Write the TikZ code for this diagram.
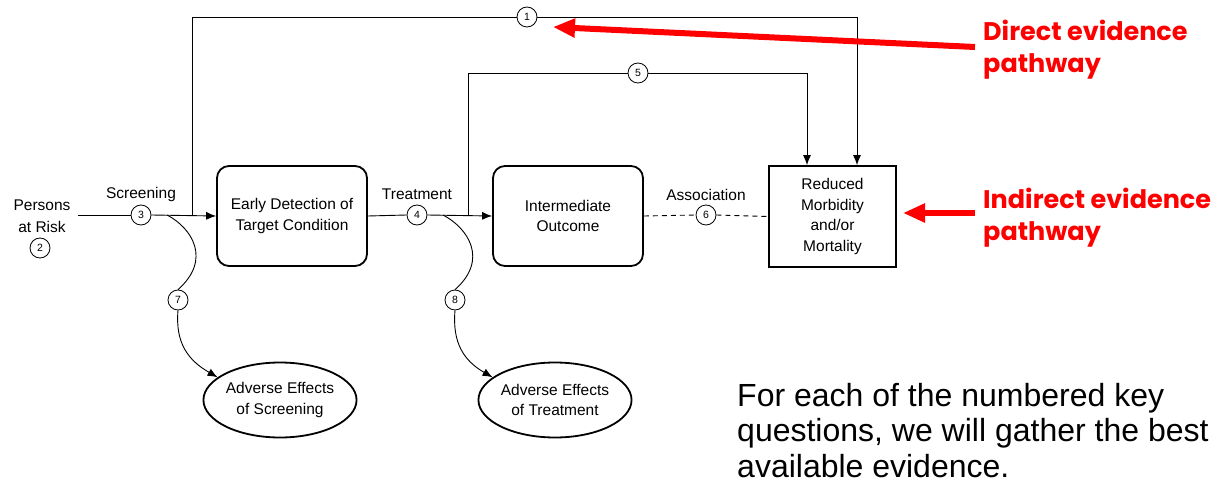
\documentclass[tikz,border=0pt]{standalone}
\usepackage{fontspec}
\setmainfont{Liberation Sans}
\newfontfamily\redfont{Poppins}
\usetikzlibrary{arrows.meta,shapes.geometric}
\definecolor{pred}{RGB}{255,0,0}
\tikzset{
  lbl/.style={font=\fontsize{15.5}{20.7}\selectfont, align=center, inner sep=0pt},
  num/.style={circle, draw, line width=0.8pt, minimum size=20pt, inner sep=0pt, font=\fontsize{10.5}{10.5}\selectfont, fill=white},
  rbox/.style={draw, line width=1.8pt, rounded corners=12pt, minimum width=150pt, minimum height=100pt, lbl},
  sbox/.style={draw, line width=1.8pt, minimum width=127pt, minimum height=101pt, lbl},
  ell/.style={ellipse, draw, line width=1.8pt, minimum width=150pt, minimum height=75pt, lbl},
  thin/.style={line width=0.9pt},
  arr/.style={thin, -{Latex[length=10pt,width=8pt]}},
  redarr/.style={pred, line width=6pt, -{Triangle[length=22pt,width=18pt]}},
  redtxt/.style={text=pred, font=\redfont\bfseries\fontsize{25.5}{32}\selectfont, align=left, inner sep=0pt, anchor=base west},
}
\begin{document}
\begin{tikzpicture}[x=1pt,y=-1pt]
\useasboundingbox (0,0) rectangle (1221,492);
% nodes
\node[lbl, font=\fontsize{15.5}{22}\selectfont] (persons) at (42,216) {Persons\\at Risk};
\node[num] (c2) at (40,248) {2};
\node[rbox] (box1) at (292,216) {Early Detection of\\Target Condition};
\node[rbox] (box2) at (568,216) {Intermediate\\Outcome};
\node[sbox] (box3) at (832.5,216.5) {Reduced\\Morbidity\\and/or\\Mortality};
\node[ell] (e1) at (280,400) {Adverse Effects\\of Screening};
\node[ell] (e2) at (555,400) {Adverse Effects\\of Treatment};
\node[num] (c3) at (141,215) {3};
\node[num] (c4) at (417,215) {4};
\node[num] (c6) at (706,215) {6};
\node[num] (c1) at (527,17) {1};
\node[num] (c5) at (638,73) {5};
\node[num] (c7) at (178,300) {7};
\node[num] (c8) at (455,300) {8};
\node[lbl] (lscr) at (141,194) {Screening};
\node[lbl] (ltrt) at (417,194) {Treatment};
\node[lbl] (lasc) at (706,195) {Association};
\coordinate (start) at (78,215);
\coordinate (j1) at (192,215);
\coordinate (j5) at (468,215);
\coordinate (j7) at (167,215);
\coordinate (j8) at (443,215);
% main line
\draw[thin] (start) -- (c3.west);
\draw[arr] (c3.east) -- (box1.west);
\draw[thin] (box1.east) -- (c4.west);
\draw[arr] (c4.east) -- (box2.west);
\draw[thin, dash pattern=on 5pt off 4pt] (box2.east) -- (c6.west);
\draw[thin, dash pattern=on 5pt off 4pt] (c6.east) -- (box3.west);
% pathway 1
\draw[thin] (j1) |- (c1.west);
\draw[arr] (c1.east) -| ([xshift=24.5pt]box3.north);
% pathway 5
\draw[thin] (j5) |- (c5.west);
\draw[arr] (c5.east) -| ([xshift=-25.5pt]box3.north);
% harms
\draw[thin] (j7) .. controls ([shift={(25,13)}]j7) and ([shift={(34,-30)}]c7.north) .. (c7.north);
\draw[arr] (c7.south) to[out=-95,in=150,looseness=1.1] (e1.160);
\draw[thin] (j8) .. controls ([shift={(25,13)}]j8) and ([shift={(34,-30)}]c8.north) .. (c8.north);
\draw[arr] (c8.south) to[out=-95,in=150,looseness=1.1] (e2.160);
% red annotations
\coordinate (d0) at (975,47);
\coordinate (d1) at (553,27);
\coordinate (i0) at (975,213);
\coordinate (i1) at (903,213);
\draw[redarr] (d0) -- (d1);
\draw[redarr] (i0) -- (i1);
\node[redtxt] (tdir) at (983,73) {Direct evidence\\pathway};
\node[redtxt] (tind) at (983,240) {Indirect evidence\\pathway};
\node[font=\fontsize{32}{35.5}\selectfont, align=left, inner sep=0pt, anchor=base west] (note) at (737,477) {For each of the numbered key\\questions, we will gather the best\\available evidence.};
\end{tikzpicture}
\end{document}
